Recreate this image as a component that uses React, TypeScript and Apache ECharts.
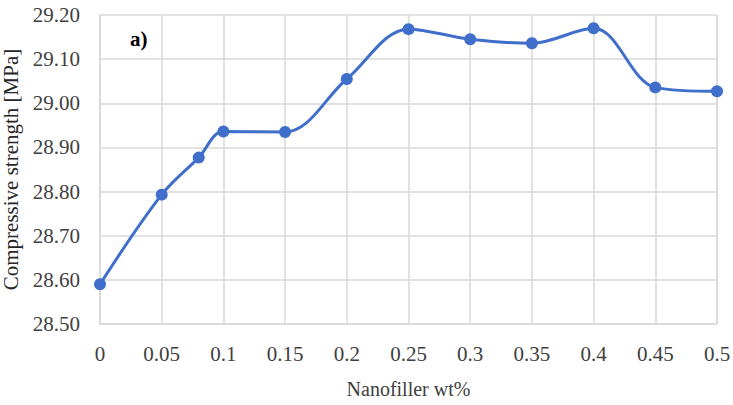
import React, { useEffect, useRef } from "react";
import * as echarts from "echarts";

const xValues = [0, 0.05, 0.08, 0.1, 0.15, 0.2, 0.25, 0.3, 0.35, 0.4, 0.45, 0.5];
const strength = [28.59, 28.793, 28.877, 28.936, 28.935, 29.055, 29.168, 29.145, 29.136, 29.17, 29.036, 29.027];
const xAxisTitle = "Nanofiller wt%";
const yAxisTitle = "Compressive strength [MPa]";
const panelLabel = "a)";

export default function App() {
  const ref = useRef<HTMLDivElement>(null);
  useEffect(() => {
    if (!ref.current) return;
    const chart = echarts.init(ref.current, null, { renderer: "svg" });
    const font = "'Times New Roman', 'Liberation Serif', serif";
    const tick = { fontSize: 21, color: "#404040", fontFamily: font };
    chart.setOption({
      animation: false,
      backgroundColor: "#ffffff",
      textStyle: { fontFamily: font },
      grid: { left: 100, top: 15, right: 16, bottom: 81, containLabel: false, outerBoundsMode: "none" },
      xAxis: {
        type: "value",
        min: 0,
        max: 0.5,
        interval: 0.05,
        name: xAxisTitle,
        nameLocation: "middle",
        nameGap: 55,
        nameTextStyle: { fontSize: 20, color: "#404040", fontFamily: font },
        axisLine: { show: true, lineStyle: { color: "#d9d9d9", width: 1.5 } },
        axisTick: { show: false },
        axisLabel: {
          ...tick,
          margin: 19,
          formatter: (v: number) => String(parseFloat(v.toFixed(2))),
        },
        splitLine: { show: true, lineStyle: { color: "#d9d9d9", width: 1.5 } },
      },
      yAxis: {
        type: "value",
        min: 28.5,
        max: 29.2,
        interval: 0.1,
        name: yAxisTitle,
        nameLocation: "middle",
        nameGap: 74,
        nameTextStyle: { fontSize: 21, color: "#262626", fontFamily: font },
        axisLine: { show: true, lineStyle: { color: "#d9d9d9", width: 1.5 } },
        axisTick: { show: false },
        axisLabel: {
          ...tick,
          margin: 20,
          formatter: (v: number) => v.toFixed(2),
        },
        splitLine: { show: true, lineStyle: { color: "#d9d9d9", width: 1.5 } },
      },
      graphic: [
        {
          type: "text",
          left: 130,
          top: 28,
          style: { text: panelLabel, fontFamily: font, fontWeight: "bold", fontSize: 21, fill: "#000000" },
        },
        {
          type: "line",
          shape: { x1: 717, y1: 15, x2: 717, y2: 324 },
          style: { stroke: "#d9d9d9", lineWidth: 1.5 },
          silent: true,
        },
      ],
      series: [
        {
          type: "line",
          data: xValues.map((x, i) => [x, strength[i]]),
          smooth: 0.35,
          symbol: "circle",
          symbolSize: 12,
          lineStyle: { color: "#3f6fcb", width: 3 },
          itemStyle: { color: "#3f6fcb" },
        },
      ],
    });
    return () => chart.dispose();
  }, []);
  return <div ref={ref} style={{ width: 733, height: 405, position: "fixed", left: 0, top: 0 }} />;
}
